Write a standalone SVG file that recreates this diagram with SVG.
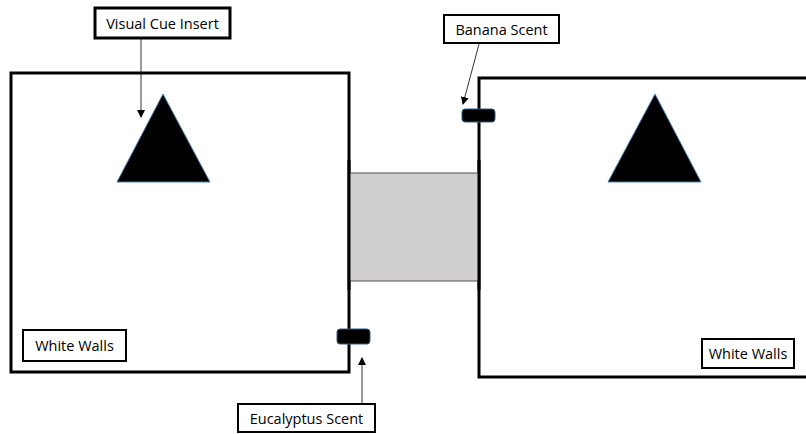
<svg xmlns="http://www.w3.org/2000/svg" width="806" height="434" viewBox="0 0 806 434">
<defs>
<marker id="ah" markerWidth="8" markerHeight="8" refX="7" refY="4" orient="auto" markerUnits="userSpaceOnUse">
<path d="M0,0 L8,4 L0,8 Z" fill="#000"/>
</marker>
<style>
.room{fill:#fff;stroke:#000;stroke-width:3}
.lbl{fill:#fff;stroke:#000;stroke-width:2}
.t{font-family:"Open Sans","Liberation Sans",sans-serif;font-size:14.5px;fill:#000;text-anchor:middle}
.scent{fill:#000;stroke:#2e5f8a;stroke-width:1}
.tri{fill:#000;stroke:#4a7fb5;stroke-width:1}
.con{stroke:#000;stroke-width:0.8;fill:none;marker-end:url(#ah)}
</style>
</defs>
<rect width="806" height="434" fill="#fff"/>
<g id="left-room">
<rect class="room" x="11" y="73" width="338" height="299"/>
</g>
<g id="right-room">
<rect class="room" x="479" y="78" width="340" height="299"/>
</g>
<g id="corridor">
<rect x="349" y="173" width="130" height="108" fill="#d0cece" stroke="#555" stroke-width="1"/>
<line x1="349" y1="160" x2="349" y2="290" stroke="#000" stroke-width="3"/>
<line x1="479" y1="160" x2="479" y2="290" stroke="#000" stroke-width="3"/>
</g>
<g id="triangle-left">
<polygon class="tri" points="163,94 210,182 117,182"/>
</g>
<g id="triangle-right">
<polygon class="tri" points="655,94 701,182 608,182"/>
</g>
<g id="banana-scent-block">
<rect class="scent" x="462" y="109" width="33" height="13" rx="3"/>
</g>
<g id="eucalyptus-scent-block">
<rect class="scent" x="337" y="329" width="33" height="15" rx="3"/>
</g>
<g id="visual-cue-label">
<rect x="95" y="8" width="135" height="30" fill="#fff" stroke="#000" stroke-width="3"/>
<text class="t" x="162.5" y="28.5">Visual Cue Insert</text>
</g>
<g id="banana-label">
<rect class="lbl" x="444" y="15" width="115" height="28"/>
<text class="t" x="501.5" y="34.5">Banana Scent</text>
</g>
<g id="eucalyptus-label">
<rect class="lbl" x="238" y="404" width="137" height="28"/>
<text class="t" x="306.5" y="423.5">Eucalyptus Scent</text>
</g>
<g id="white-walls-left">
<rect class="lbl" x="23" y="330" width="103" height="31"/>
<text class="t" x="74.5" y="350.5">White Walls</text>
</g>
<g id="white-walls-right">
<rect class="lbl" x="702" y="339" width="92" height="29"/>
<text class="t" x="748" y="358.5">White Walls</text>
</g>
<g id="connectors">
<line class="con" x1="141" y1="39" x2="141" y2="117"/>
<line class="con" x1="479" y1="44" x2="463" y2="104"/>
<line class="con" x1="362" y1="404" x2="362" y2="358"/>
</g>
</svg>
